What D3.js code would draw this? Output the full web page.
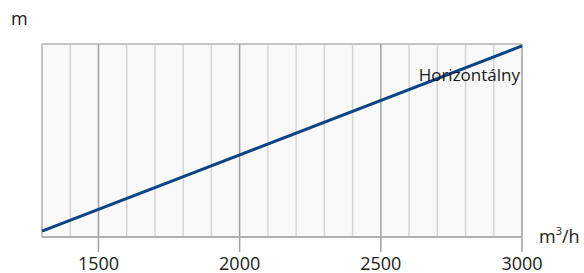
<!DOCTYPE html>
<html>
<head>
<meta charset="utf-8">
<script src="https://cdn.jsdelivr.net/npm/d3@7"></script>
<style>
  body { margin: 0; background: #fff; }
  text { font-family: "Open Sans", sans-serif; fill: #1a1a1a; }
</style>
</head>
<body>
<script>
// airflow (m3/h) vs head (m), no y values shown on the chart
var flow = [1300, 3000];
var head = [3, 99];
var majorTicks = [1500, 2000, 2500, 3000];
var minorTicks = d3.range(1400, 3000, 100);
var seriesName = "Horizontálny";

var width = 584, height = 273;
var margin = {left: 42, right: 62, top: 44, bottom: 36};

var svg = d3.select("body").append("svg")
    .attr("width", width)
    .attr("height", height);

var x = d3.scaleLinear()
    .domain([1300, 3000])
    .range([margin.left, width - margin.right]);

var y = d3.scaleLinear()
    .domain([0, 100])
    .range([height - margin.bottom, margin.top]);

// plot background
svg.append("rect")
    .attr("x", x(1300))
    .attr("y", y(100))
    .attr("width", x(3000) - x(1300))
    .attr("height", y(0) - y(100))
    .attr("fill", "#f9f9f9");

// minor grid
svg.selectAll(".minor")
    .data(minorTicks.filter(function (d) { return majorTicks.indexOf(d) < 0; }))
    .enter()
    .append("line")
    .attr("x1", function (d) { return x(d); })
    .attr("x2", function (d) { return x(d); })
    .attr("y1", y(100))
    .attr("y2", y(0))
    .attr("stroke", "#d4d4d4")
    .attr("stroke-width", 1.5);

// top and left border
svg.append("line")
    .attr("x1", x(1300)).attr("x2", x(3000))
    .attr("y1", y(100)).attr("y2", y(100))
    .attr("stroke", "#c4c4c4").attr("stroke-width", 2);
svg.append("line")
    .attr("x1", x(1300)).attr("x2", x(1300))
    .attr("y1", y(100)).attr("y2", y(0))
    .attr("stroke", "#c4c4c4").attr("stroke-width", 2);

// major grid, extended down as ticks
svg.selectAll(".major")
    .data(majorTicks)
    .enter()
    .append("line")
    .attr("x1", function (d) { return x(d); })
    .attr("x2", function (d) { return x(d); })
    .attr("y1", y(100))
    .attr("y2", y(0) + 15)
    .attr("stroke", "#a0a0a0")
    .attr("stroke-width", 1.5);

// bottom axis line
svg.append("line")
    .attr("x1", x(1300)).attr("x2", x(3000))
    .attr("y1", y(0)).attr("y2", y(0))
    .attr("stroke", "#b0b0b0").attr("stroke-width", 2);

// tick labels
svg.selectAll(".tl")
    .data(majorTicks)
    .enter()
    .append("text")
    .attr("x", function (d) { return x(d); })
    .attr("y", 270)
    .attr("text-anchor", "middle")
    .attr("font-size", "18px")
    .text(function (d) { return d; });

// series line
var line = d3.line()
    .x(function (d, i) { return x(flow[i]); })
    .y(function (d) { return y(d); });

svg.append("path")
    .datum(head)
    .attr("d", line)
    .attr("fill", "none")
    .attr("stroke", "#0b4486")
    .attr("stroke-width", 3);

svg.append("text")
    .attr("x", x(3000) - 2)
    .attr("y", 81)
    .attr("text-anchor", "end")
    .attr("font-size", "17px")
    .text(seriesName);

// axis titles
svg.append("text")
    .attr("x", 11)
    .attr("y", 25)
    .attr("font-size", "18px")
    .text("m");

var xt = svg.append("text")
    .attr("x", 539)
    .attr("y", 243)
    .attr("font-size", "18px");
xt.append("tspan").text("m");
xt.append("tspan").attr("font-size", "11px").attr("dy", -8).text("3");
xt.append("tspan").attr("dy", 8).text("/h");
</script>
</body>
</html>
